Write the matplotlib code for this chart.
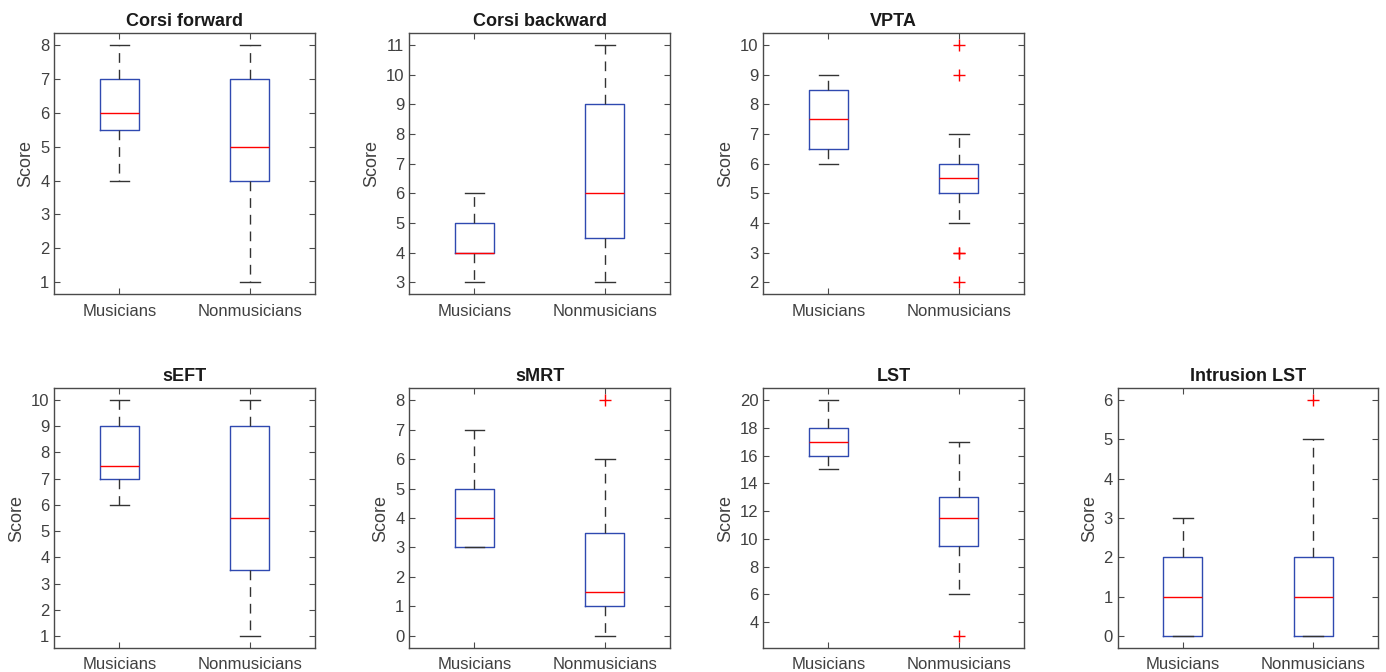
import matplotlib
matplotlib.use("Agg")
import matplotlib.pyplot as plt
import numpy as np

plt.rcParams['font.family'] = ['Liberation Sans', 'DejaVu Sans']

groups = ["Musicians", "Nonmusicians"]
titles = ["Corsi forward", "Corsi backward", "VPTA", "sEFT", "sMRT", "LST", "Intrusion LST"]

# per test: [Musicians, Nonmusicians]
q1 = [[5.5, 4], [4, 4.5], [6.5, 5], [7, 3.5], [3, 1], [16, 9.5], [0, 0]]
med = [[6, 5], [4, 6], [7.5, 5.5], [7.5, 5.5], [4, 1.5], [17, 11.5], [1, 1]]
q3 = [[7, 7], [5, 9], [8.5, 6], [9, 9], [5, 3.5], [18, 13], [2, 2]]
whislo = [[4, 1], [3, 3], [6, 4], [6, 1], [3, 0], [15, 6], [0, 0]]
whishi = [[8, 8], [6, 11], [9, 7], [10, 10], [7, 6], [20, 17], [3, 5]]
fliers = [[[], []], [[], []], [[], [10, 9, 3, 3, 2]], [[], []], [[], [8]], [[], [3]], [[], [6]]]

yticks = [
    list(range(1, 9)), list(range(3, 12)), list(range(2, 11)),
    list(range(1, 11)), list(range(0, 9)), list(range(4, 21, 2)), list(range(0, 7)),
]

W, H = 1386, 672
fig = plt.figure(figsize=(W / 100, H / 100), dpi=100)

lefts = [54.3, 409.3, 763.3, 1117.7]
aw = 260.7
row_tb = [(33.3, 294.0), (388.3, 647.7)]
slots = [(0, 0), (0, 1), (0, 2), (1, 0), (1, 1), (1, 2), (1, 3)]

spine_c = "#4a4a4a"
text_c = "#404040"
box_c = "#2f49b0"

for i, (r, c) in enumerate(slots):
    top, bot = row_tb[r]
    ax = fig.add_axes([lefts[c] / W, 1 - bot / H, aw / W, (bot - top) / H])
    stats = []
    for g in range(2):
        stats.append(dict(med=med[i][g], q1=q1[i][g], q3=q3[i][g],
                          whislo=whislo[i][g], whishi=whishi[i][g],
                          fliers=fliers[i][g], label=groups[g]))
    ax.bxp(stats, positions=[1, 2], widths=0.3, capwidths=0.15,
           boxprops=dict(color=box_c, linewidth=1.0),
           medianprops=dict(color="#ff0000", linewidth=1.0),
           whiskerprops=dict(color="#333333", linewidth=1.0, linestyle=(0, (7, 5))),
           capprops=dict(color="#333333", linewidth=1.0),
           flierprops=dict(marker="+", markeredgecolor="#ff0000", markersize=8,
                           markeredgewidth=1.0, linestyle="none"))
    allv = [whislo[i][0], whislo[i][1], whishi[i][0], whishi[i][1]] + fliers[i][0] + fliers[i][1]
    lo, hi = min(allv), max(allv)
    pad = 0.05 * (hi - lo)
    ax.set_ylim(lo - pad, hi + pad)
    ax.set_xlim(0.5, 2.5)
    ax.set_yticks(yticks[i])
    ax.set_xticks([1, 2])
    ax.set_xticklabels(groups)
    ax.tick_params(direction="in", length=4, width=0.8, colors=spine_c,
                   labelcolor=text_c, labelsize=12, top=True, right=True)
    ax.tick_params(axis="x", pad=7)
    for s in ax.spines.values():
        s.set_color(spine_c)
        s.set_linewidth(1.0)
    ax.set_ylabel("Score", fontsize=13, color=text_c)
    ax.set_title(titles[i], fontsize=13, fontweight="bold", color="#1a1a1a", pad=5)

fig.savefig("out.png", dpi=100)
